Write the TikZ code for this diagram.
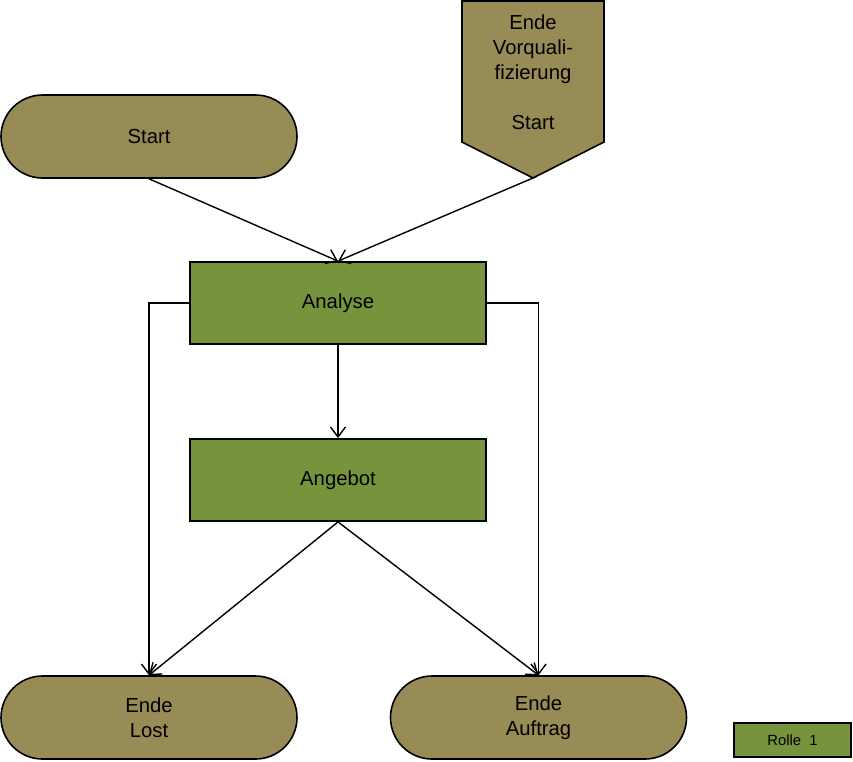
\documentclass[tikz,border=0pt]{standalone}
\usepackage{fontspec}
\setmainfont{Liberation Sans}
\usetikzlibrary{arrows.meta}
\definecolor{khaki}{RGB}{151,139,86}
\definecolor{leaf}{RGB}{119,147,60}
\tikzset{
  term/.style={draw=black, line width=1.6pt, fill=khaki, rounded corners=41.5pt,
    minimum width=296pt, minimum height=83pt, inner sep=0pt, align=center,
    font=\fontsize{20.3}{25}\selectfont},
  task/.style={draw=black, line width=1.8pt, fill=leaf,
    minimum width=296pt, minimum height=82pt, inner sep=0pt, align=center,
    font=\fontsize{20.3}{25}\selectfont},
  conn/.style={line width=1.4pt, -{Straight Barb[length=10pt,width=15pt,line width=1.4pt]}}
}
\begin{document}
\begin{tikzpicture}[x=1pt,y=-1pt]
\useasboundingbox (0,0) rectangle (853,761);
\node[term] (start) at (149,136.5) {Start};
\draw[line width=1.6pt, fill=khaki] (462,1) -- (604,1) -- (604,142) -- (533,178) -- (462,142) -- cycle;
\coordinate (vtip) at (533,178);
\node[align=center, inner sep=0pt, font=\fontsize{20.3}{25}\selectfont] (vq) at (533,72) {Ende\\Vorquali-\\fizierung\\[25pt]Start};
\node[task] (analyse) at (338,303) {Analyse};
\node[task] (angebot) at (338,480) {Angebot};
\node[term] (lost) at (149,717.5) {Ende\\Lost};
\node[term] (auftrag) at (538.5,717.5) {Ende\\Auftrag};
\node[draw=black, line width=1.6pt, fill=leaf, minimum width=117pt, minimum height=34pt, inner sep=0pt,
  font=\fontsize{14.8}{17}\selectfont] (rolle) at (792.5,740) {Rolle\ \ 1};
\draw[conn] (start.south) -- (analyse.north);
\draw[conn] (vtip) -- (analyse.north);
\draw[conn] (analyse.south) -- (angebot.north);
\draw[conn] (analyse.west) -| (lost.north);
\draw[conn] (analyse.east) -| (auftrag.north);
\draw[conn] (angebot.south) -- (lost.north);
\draw[conn] (angebot.south) -- (auftrag.north);
\end{tikzpicture}
\end{document}
